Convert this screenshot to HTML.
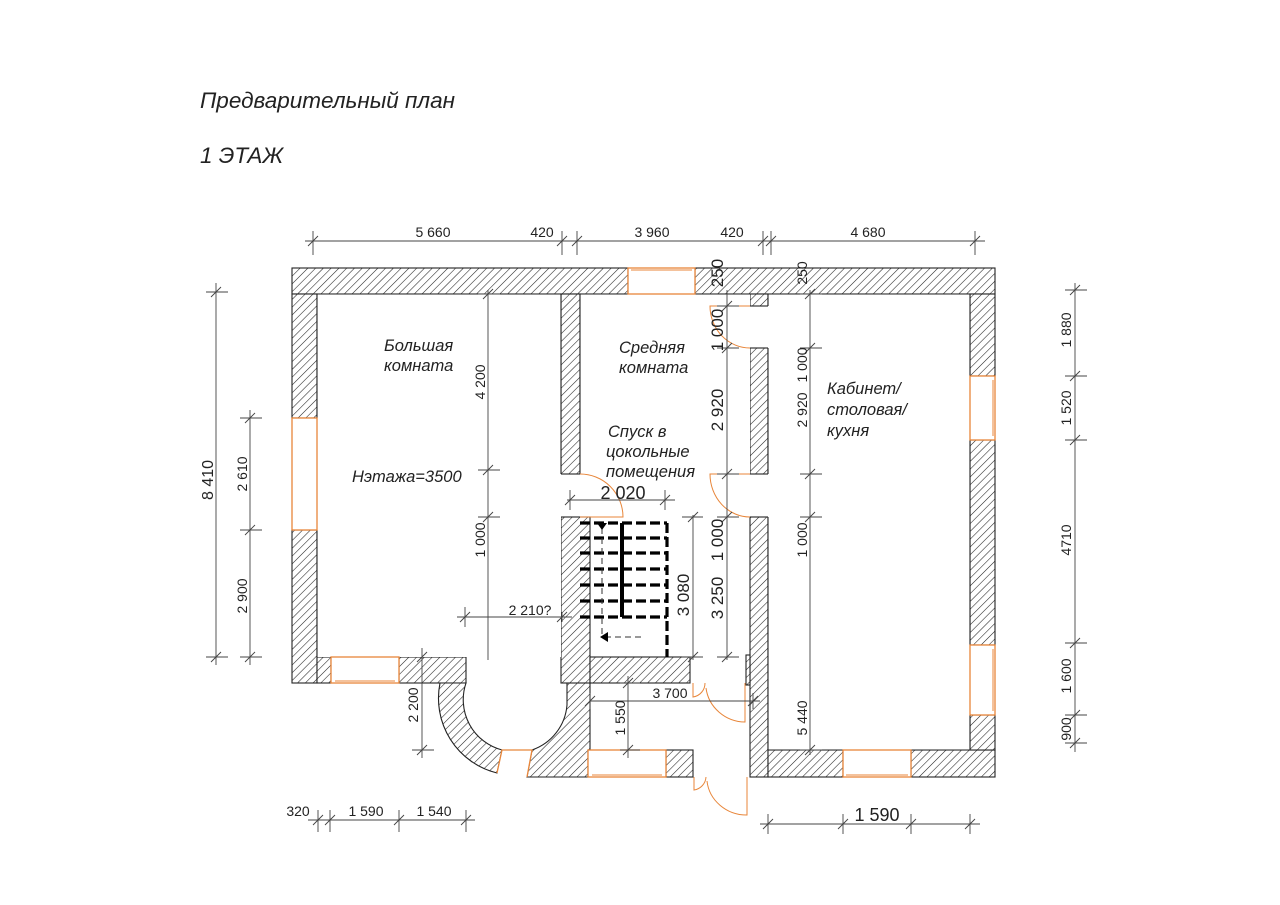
<!DOCTYPE html>
<html><head><meta charset="utf-8"><style>
html,body{margin:0;padding:0;background:#fff;}
svg{display:block;}
text{font-family:"Liberation Sans",sans-serif;fill:#222;}
</style></head><body>
<svg width="1280" height="905" viewBox="0 0 1280 905" xmlns="http://www.w3.org/2000/svg">
<defs>
<pattern id="h" patternUnits="userSpaceOnUse" width="5.5" height="5.5" patternTransform="rotate(45)">
<rect width="5.5" height="5.5" fill="#fff"/><line x1="0" y1="0" x2="0" y2="5.5" stroke="#222" stroke-width="1.1"/>
</pattern>
</defs>
<text x="200" y="108" font-size="22.5" font-style="italic">Предварительный план</text>
<text x="200" y="163" font-size="22.5" font-style="italic">1 ЭТАЖ</text>

<g fill="url(#h)" stroke="#222" stroke-width="1.1">
<rect x="292" y="268" width="336" height="26"/>
<rect x="695" y="268" width="300" height="26"/>
<rect x="292" y="294" width="25" height="124"/>
<rect x="292" y="530" width="25" height="153"/>
<rect x="317" y="657" width="14" height="26"/>
<rect x="399" y="657" width="67" height="26"/>
<path d="M440,683 A77,77 0 0 0 497,773 L502,750 A52,52 0 0 1 466,683 Z"/>
<path d="M527,777 L532,750 A52,52 0 0 0 567,705 L567,683 L590,683 L590,750 L588,750 L588,777 Z"/>
<rect x="561" y="294" width="19" height="180"/>
<rect x="561" y="517" width="29" height="166"/>
<rect x="590" y="657" width="100" height="26"/>
<rect x="666" y="750" width="27" height="27"/>
<rect x="750" y="294" width="18" height="12"/>
<rect x="750" y="348" width="18" height="126"/>
<rect x="750" y="517" width="18" height="260"/>
<rect x="746" y="655" width="4" height="30"/>
<rect x="768" y="750" width="75" height="27"/>
<rect x="911" y="750" width="84" height="27"/>
<rect x="970" y="294" width="25" height="82"/>
<rect x="970" y="440" width="25" height="205"/>
<rect x="970" y="715" width="25" height="35"/>
</g>
<rect x="317" y="294" width="244" height="363" fill="#fff"/>
<rect x="580" y="294" width="170" height="180" fill="#fff"/>
<rect x="768" y="294" width="202" height="456" fill="#fff"/>
<g stroke="#222" stroke-width="1.1" fill="none">
<path d="M317,294 L561,294 M580,294 L628,294 M695,294 L750,294 M768,294 L970,294"/>
<path d="M317,294 V418 M317,530 V657 M561,294 V474 M580,294 V474 M750,306 H768 M970,294 V376 M970,440 V645 M970,715 V750 M768,294 V306 M768,348 V474 M768,517 V750 H843 M911,750 H970"/>
</g>

<g stroke="#e8863a" stroke-width="1.3" fill="#fff">
<rect x="628" y="268" width="67" height="26"/>
<rect x="292" y="418" width="25" height="112"/>
<rect x="331" y="657" width="68" height="26"/>
<rect x="588" y="750" width="78" height="27"/>
<rect x="843" y="750" width="68" height="27"/>
<rect x="970" y="376" width="25" height="64"/>
<rect x="970" y="645" width="25" height="70"/>
<path d="M497,773 L502,750 L532,750 L527,777"/>
</g>
<g stroke="#e8863a" stroke-width="1" fill="none">
<line x1="292" y1="424" x2="292" y2="524"/><line x1="335" y1="681" x2="395" y2="681"/>
<line x1="631" y1="270" x2="692" y2="270"/><line x1="846" y1="775" x2="908" y2="775"/>
<line x1="592" y1="775" x2="662" y2="775"/><line x1="993" y1="380" x2="993" y2="436"/><line x1="993" y1="649" x2="993" y2="711"/>
<path d="M750,306 H710 A40,42 0 0 0 750,348"/>
<path d="M750,474 H710 A40,43 0 0 0 750,517"/>
<path d="M580,474 A43,43 0 0 1 623,517 H580"/>
<path d="M693,683 V697 A14,14 0 0 0 705,683"/>
<path d="M745,683 V722 A40,39 0 0 1 706,688"/>
<path d="M694,777 V790 A14,14 0 0 0 706,777"/>
<path d="M747,777 V815 A40,38 0 0 1 707,781"/>
</g>

<g stroke="#000" stroke-width="3.2" stroke-dasharray="10,4" fill="none">
<path d="M580,523 H667 M580,538 H667 M580,553 H667 M580,569 H667 M580,585 H667 M580,601 H667 M580,617 H667"/>
<path d="M667,523 V657"/>
</g>
<line x1="622" y1="523" x2="622" y2="617" stroke="#000" stroke-width="4"/>
<g stroke="#333" stroke-width="1" fill="none" stroke-dasharray="6,4">
<line x1="602" y1="528" x2="602" y2="637"/><line x1="605" y1="637" x2="643" y2="637"/>
</g>
<path d="M597,523 L607,523 L602,530 Z" fill="#000"/>
<path d="M600,637 L608,632 L608,642 Z" fill="#000"/>

<g stroke="#444" stroke-width="0.9" fill="none">
<line x1="305" y1="241" x2="985" y2="241"/>
<path d="M313,231V255 M308,246L318,236 M562,231V255 M557,246L567,236 M577,231V255 M572,246L582,236 M763,231V255 M758,246L768,236 M771,231V255 M766,246L776,236 M975,231V255 M970,246L980,236"/>
<line x1="216" y1="283" x2="216" y2="665"/>
<path d="M206,292H228 M211,297L221,287 M206,657H228 M211,662L221,652"/>
<line x1="250" y1="410" x2="250" y2="665"/>
<path d="M240,418H262 M245,423L255,413 M240,530H262 M245,535L255,525 M240,657H262 M245,662L255,652"/>
<line x1="1075" y1="283" x2="1075" y2="752"/>
<path d="M1065,290H1087 M1070,295L1080,285 M1065,376H1087 M1070,381L1080,371 M1065,440H1087 M1070,445L1080,435 M1065,643H1087 M1070,648L1080,638 M1065,715H1087 M1070,720L1080,710 M1065,743H1087 M1070,748L1080,738"/>
<line x1="488" y1="290" x2="488" y2="660"/>
<path d="M478,294H500 M483,299L493,289 M478,470H500 M483,475L493,465 M478,517H500 M483,522L493,512"/>
<line x1="727" y1="290" x2="727" y2="660"/>
<path d="M717,306H739 M722,311L732,301 M717,348H739 M722,353L732,343 M717,474H739 M722,479L732,469 M717,517H739 M722,522L732,512 M717,657H739 M722,662L732,652"/>
<line x1="810" y1="290" x2="810" y2="755"/>
<path d="M800,294H822 M805,299L815,289 M800,348H822 M805,353L815,343 M800,474H822 M805,479L815,469 M800,517H822 M805,522L815,512 M800,750H822 M805,755L815,745"/>
<line x1="693" y1="515" x2="693" y2="660"/>
<path d="M682,517H703 M688,522L698,512 M682,657H703 M688,662L698,652"/>
<line x1="567" y1="500" x2="675" y2="500"/>
<path d="M570,490V510 M565,505L575,495 M665,490V510 M660,505L670,495"/>
<line x1="457" y1="617" x2="572" y2="617"/>
<path d="M465,607V627 M460,622L470,612 M562,612V622 M557,622L567,612"/>
<line x1="590" y1="701" x2="760" y2="701"/>
<path d="M590,693V709 M585,706L595,696 M753,693V709 M748,706L758,696"/>
<line x1="628" y1="676" x2="628" y2="758"/>
<path d="M620,683H640 M623,688L633,678 M620,750H640 M623,755L633,745"/>
<line x1="422" y1="648" x2="422" y2="758"/>
<path d="M412,750H434 M417,755L427,745 M417,662L427,652"/>
<line x1="308" y1="820" x2="475" y2="820"/>
<path d="M318,810V832 M313,825L323,815 M330,810V832 M325,825L335,815 M399,810V832 M394,825L404,815 M466,810V832 M461,825L471,815"/>
<line x1="760" y1="824" x2="980" y2="824"/>
<path d="M768,814V834 M763,829L773,819 M843,814V834 M838,829L848,819 M911,814V834 M906,829L916,819 M970,814V834 M965,829L975,819"/>
</g>

<g font-size="14">
<text x="433" y="237" text-anchor="middle">5 660</text>
<text x="542" y="237" text-anchor="middle">420</text>
<text x="652" y="237" text-anchor="middle">3 960</text>
<text x="732" y="237" text-anchor="middle">420</text>
<text x="868" y="237" text-anchor="middle">4 680</text>
<text transform="translate(213,480) rotate(-90)" text-anchor="middle" font-size="16">8 410</text>
<text transform="translate(247,474) rotate(-90)" text-anchor="middle">2 610</text>
<text transform="translate(247,596) rotate(-90)" text-anchor="middle">2 900</text>
<text transform="translate(1071,330) rotate(-90)" text-anchor="middle">1 880</text>
<text transform="translate(1071,408) rotate(-90)" text-anchor="middle">1 520</text>
<text transform="translate(1071,540) rotate(-90)" text-anchor="middle">4710</text>
<text transform="translate(1071,676) rotate(-90)" text-anchor="middle">1 600</text>
<text transform="translate(1071,729) rotate(-90)" text-anchor="middle">900</text>
<text transform="translate(485,382) rotate(-90)" text-anchor="middle">4 200</text>
<text transform="translate(485,540) rotate(-90)" text-anchor="middle">1 000</text>
<text transform="translate(807,365) rotate(-90)" text-anchor="middle">1 000</text>
<text transform="translate(807,410) rotate(-90)" text-anchor="middle">2 920</text>
<text transform="translate(807,540) rotate(-90)" text-anchor="middle">1 000</text>
<text transform="translate(807,718) rotate(-90)" text-anchor="middle">5 440</text>
<text transform="translate(807,273) rotate(-90)" text-anchor="middle">250</text>
<text x="530" y="615" text-anchor="middle">2 210?</text>
<text x="670" y="698" text-anchor="middle">3 700</text>
<text transform="translate(625,718) rotate(-90)" text-anchor="middle">1 550</text>
<text transform="translate(418,705) rotate(-90)" text-anchor="middle">2 200</text>
<text x="298" y="816" text-anchor="middle">320</text>
<text x="366" y="816" text-anchor="middle">1 590</text>
<text x="434" y="816" text-anchor="middle">1 540</text>
</g>
<g font-size="17">
<text transform="translate(723,273) rotate(-90)" text-anchor="middle">250</text>
<text transform="translate(723,330) rotate(-90)" text-anchor="middle">1 000</text>
<text transform="translate(723,410) rotate(-90)" text-anchor="middle">2 920</text>
<text transform="translate(723,540) rotate(-90)" text-anchor="middle">1 000</text>
<text transform="translate(723,598) rotate(-90)" text-anchor="middle">3 250</text>
<text transform="translate(689,595) rotate(-90)" text-anchor="middle">3 080</text>
<text x="623" y="499" text-anchor="middle" font-size="18">2 020</text>
<text x="877" y="821" text-anchor="middle" font-size="18">1 590</text>
</g>
<g font-size="16.5" font-style="italic">
<text x="384" y="351">Большая</text>
<text x="384" y="371">комната</text>
<text x="619" y="353">Средняя</text>
<text x="619" y="373">комната</text>
<text x="608" y="437">Спуск в</text>
<text x="606" y="457">цокольные</text>
<text x="606" y="477">помещения</text>
<text x="352" y="482">Нэтажа=3500</text>
<text x="827" y="394">Кабинет/</text>
<text x="827" y="415">столовая/</text>
<text x="827" y="436">кухня</text>
</g>
</svg>
</body></html>
